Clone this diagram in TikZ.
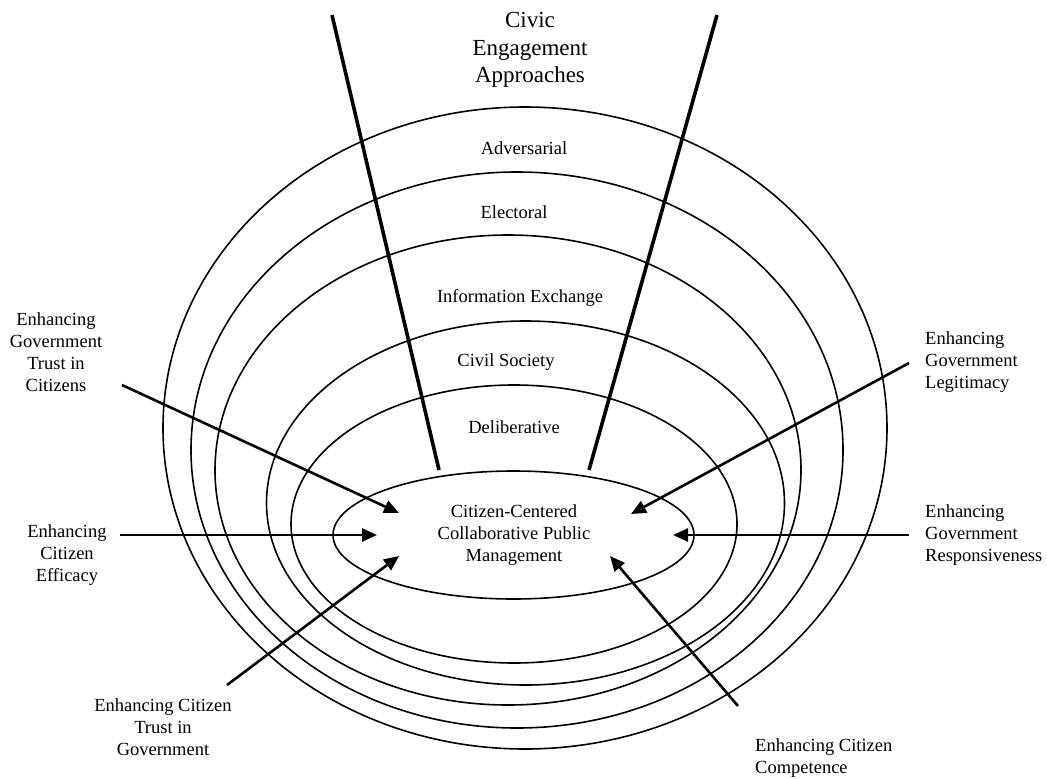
\documentclass[tikz,border=0pt]{standalone}
\usepackage{fontspec}
\setmainfont{Liberation Serif}
\usetikzlibrary{arrows.meta}
\begin{document}
\begin{tikzpicture}[x=1pt,y=-1pt,
  ring/.style={line width=1.6pt},
  divider/.style={line width=3.6pt},
  influence/.style={line width=2.6pt,-{Triangle[length=15pt,width=13pt]}},
  lbl/.style={inner sep=0pt,align=center,font=\fontsize{18.5}{22}\selectfont},
  lbll/.style={inner sep=0pt,align=left,anchor=west,font=\fontsize{18.5}{22}\selectfont},
  ttl/.style={inner sep=0pt,align=center,font=\fontsize{23}{27.5}\selectfont}]
\useasboundingbox (0,0) rectangle (1047,779);
% rings
\draw[ring] (525,428) ellipse [x radius=362,y radius=321];
\draw[ring] (517,450) ellipse [x radius=326,y radius=278];
\draw[ring] (508,470) ellipse [x radius=293,y radius=235];
\draw[ring] (525.5,503) ellipse [x radius=259,y radius=182];
\draw[ring] (514,524) ellipse [x radius=223,y radius=139];
\draw[ring] (513.5,535) ellipse [x radius=180.5,y radius=64];
% dividers
\coordinate (dlt) at (332,15);
\coordinate (dlb) at (439,470);
\coordinate (drt) at (717,15);
\coordinate (drb) at (589,470);
\draw[divider] (dlt) -- (dlb);
\draw[divider] (drt) -- (drb);
% title and ring labels
\node[ttl] (title) at (530,50) {Civic\\Engagement\\Approaches};
\node[lbl] (adv) at (524,148) {Adversarial};
\node[lbl] (ele) at (514,212) {Electoral};
\node[lbl] (inf) at (520,298) {Information Exchange};
\node[lbl] (civ) at (506,362) {Civil Society};
\node[lbl] (del) at (514,427) {Deliberative};
\node[lbl] (core) at (514,535) {Citizen-Centered\\Collaborative Public\\Management};
% outer labels
\node[lbl] (gtc) at (56,352) {Enhancing\\Government\\Trust in\\Citizens};
\node[lbl] (eff) at (67,555) {Enhancing\\Citizen\\Efficacy};
\node[lbl] (ctg) at (163,727) {Enhancing Citizen\\Trust in\\Government};
\node[lbll] (com) at (755,758) {Enhancing Citizen\\Competence};
\node[lbll] (res) at (925,535) {Enhancing\\Government\\Responsiveness};
\node[lbll] (leg) at (925,362) {Enhancing\\Government\\Legitimacy};
% arrow ends
\coordinate (a1s) at (122,385); \coordinate (a1e) at (399,513);
\coordinate (a2s) at (120,535); \coordinate (a2e) at (377,535);
\coordinate (a3s) at (227,685); \coordinate (a3e) at (399,556);
\coordinate (a4s) at (909,363); \coordinate (a4e) at (631,514);
\coordinate (a5s) at (909,535); \coordinate (a5e) at (673,535);
\coordinate (a6s) at (738,706); \coordinate (a6e) at (610,556);
\draw[influence] (a1s) -- (a1e);
\draw[influence] (a2s) -- (a2e);
\draw[influence] (a3s) -- (a3e);
\draw[influence] (a4s) -- (a4e);
\draw[influence] (a5s) -- (a5e);
\draw[influence] (a6s) -- (a6e);
\end{tikzpicture}
\end{document}
